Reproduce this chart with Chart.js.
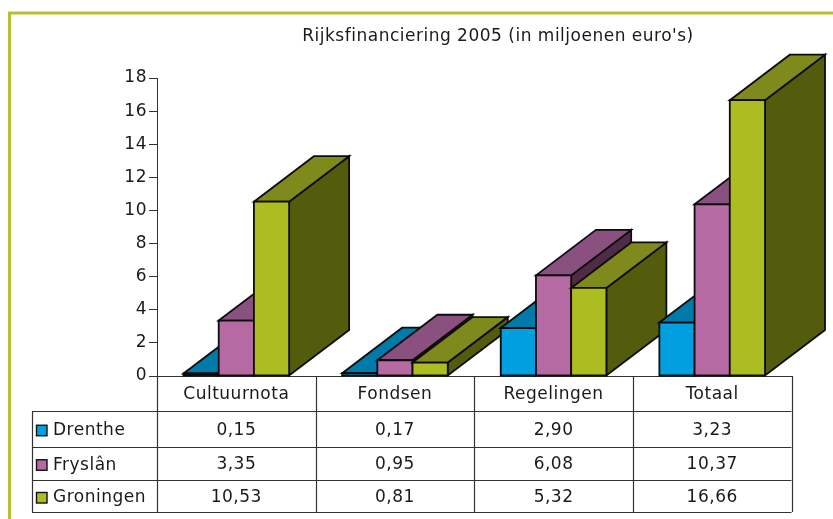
<!DOCTYPE html>
<html>
<head>
<meta charset="utf-8">
<title>Rijksfinanciering 2005</title>
<script src="https://cdn.jsdelivr.net/npm/chart.js@4"></script>
<style>
  html, body { margin: 0; padding: 0; background: #fff; }
  #wrap { position: relative; width: 833px; height: 519px; }
</style>
</head>
<body>
<div id="wrap"><canvas id="chart" width="833" height="519"></canvas></div>
<script>
  const categories = ['Cultuurnota', 'Fondsen', 'Regelingen', 'Totaal'];
  const seriesNames = ['Drenthe', 'Fryslân', 'Groningen'];
  const drenthe = [0.15, 0.17, 2.90, 3.23];
  const fryslan = [3.35, 0.95, 6.08, 10.37];
  const groningen = [10.53, 0.81, 5.32, 16.66];
  const yTicks = [0, 2, 4, 6, 8, 10, 12, 14, 16, 18];
  const chartTitle = "Rijksfinanciering 2005 (in miljoenen euro's)";

  const FONT = '"DejaVu Sans", sans-serif';
  const FONT_SIZE = 17;
  const INK = '#1a1a1a';
  const LINE = '#333333';
  const DEPTH_X = 60;
  const DEPTH_Y = 45.5;
  const ROW_LINES = [411, 446.5, 480, 512];
  const TABLE_LEFT = 32;

  const colors = [
    { front: '#009fdf', top: '#007aa8', side: '#004f6e' },
    { front: '#b56aa3', top: '#8a5180', side: '#4f2b45' },
    { front: '#adbc20', top: '#808a1c', side: '#535c0d' },
  ];
  const seriesValues = [drenthe, fryslan, groningen];

  const fillFace = (ctx, points, color) => {
    ctx.beginPath();
    points.forEach((p, i) => (i ? ctx.lineTo(p[0], p[1]) : ctx.moveTo(p[0], p[1])));
    ctx.closePath();
    ctx.fillStyle = color;
    ctx.fill();
    ctx.stroke();
  };

  // bars get their depth here, left to right, so nearer faces cover the ones behind
  const bars3d = {
    id: 'bars3d',
    afterDatasetsDraw(chart) {
      const ctx = chart.ctx;
      ctx.save();
      ctx.lineWidth = 1.8;
      ctx.strokeStyle = '#0c0c0c';
      ctx.lineJoin = 'miter';
      categories.forEach((cat, c) => {
        seriesValues.forEach((vals, s) => {
          const bar = chart.getDatasetMeta(s).data[c];
          const l = bar.x - bar.width / 2;
          const r = bar.x + bar.width / 2;
          const t = bar.y;
          const b = bar.base;
          fillFace(ctx, [[r, t], [r + DEPTH_X, t - DEPTH_Y], [r + DEPTH_X, b - DEPTH_Y], [r, b]], colors[s].side);
          fillFace(ctx, [[l, t], [l + DEPTH_X, t - DEPTH_Y], [r + DEPTH_X, t - DEPTH_Y], [r, t]], colors[s].top);
          fillFace(ctx, [[l, t], [r, t], [r, b], [l, b]], colors[s].front);
        });
      });
      ctx.restore();
    },
  };

  // green frame, title and the data table under the x axis
  const decorations = {
    id: 'decorations',
    beforeDraw(chart) {
      const ctx = chart.ctx;
      ctx.letterSpacing = '0.5px';
      ctx.save();
      ctx.strokeStyle = '#b5c22d';
      ctx.lineWidth = 3;
      ctx.strokeRect(9.5, 13, 840, 540);
      ctx.restore();
    },
    afterDraw(chart) {
      const ctx = chart.ctx;
      const x = chart.scales.x;
      const area = chart.chartArea;
      const step = x.getPixelForValue(1) - x.getPixelForValue(0);
      const edges = categories.map((cat, i) => x.getPixelForValue(i) - step / 2);
      edges.push(area.right);

      ctx.save();
      ctx.fillStyle = INK;
      ctx.font = FONT_SIZE + 'px ' + FONT;
      ctx.textAlign = 'center';
      ctx.textBaseline = 'middle';
      ctx.fillText(chartTitle, 498, 36.5);

      ctx.strokeStyle = LINE;
      ctx.lineWidth = 1.2;
      edges.forEach((ex) => {
        const px = Math.round(ex) + 0.5;
        ctx.beginPath();
        ctx.moveTo(px, area.bottom);
        ctx.lineTo(px, ROW_LINES[3]);
        ctx.stroke();
      });
      ctx.beginPath();
      ctx.moveTo(TABLE_LEFT + 0.5, ROW_LINES[0]);
      ctx.lineTo(TABLE_LEFT + 0.5, ROW_LINES[3]);
      ctx.stroke();
      ROW_LINES.forEach((ry) => {
        ctx.beginPath();
        ctx.moveTo(TABLE_LEFT, Math.round(ry) + 0.5);
        ctx.lineTo(area.right, Math.round(ry) + 0.5);
        ctx.stroke();
      });

      seriesNames.forEach((name, s) => {
        const midY = (ROW_LINES[s] + ROW_LINES[s + 1]) / 2;
        ctx.fillStyle = colors[s].front;
        ctx.strokeStyle = '#111111';
        ctx.lineWidth = 1.4;
        ctx.fillRect(36.5, midY + 2 - 5.5, 10.5, 10.5);
        ctx.strokeRect(36.5, midY + 2 - 5.5, 10.5, 10.5);
        ctx.strokeStyle = LINE;
        ctx.fillStyle = INK;
        ctx.textAlign = 'left';
        ctx.fillText(name, 53, midY + 2);
        ctx.textAlign = 'center';
        seriesValues[s].forEach((value, c) => {
          ctx.fillText(value.toFixed(2).replace('.', ','), x.getPixelForValue(c), midY + 1.5);
        });
      });
      ctx.restore();
    },
  };

  new Chart(document.getElementById('chart'), {
    type: 'bar',
    data: {
      labels: categories,
      datasets: seriesNames.map((name, s) => ({
        label: name,
        data: seriesValues[s],
        backgroundColor: colors[s].front,
        barPercentage: 1,
        categoryPercentage: 0.666,
      })),
    },
    options: {
      responsive: false,
      animation: false,
      layout: { padding: { top: 78, right: 41.5, left: 0, bottom: 0 } },
      plugins: {
        legend: { display: false },
        tooltip: { enabled: false },
      },
      scales: {
        x: {
          afterFit: (scale) => { scale.height = 143; },
          grid: { display: false },
          border: { display: true, color: LINE, width: 1 },
          ticks: { color: INK, font: { family: FONT, size: FONT_SIZE }, padding: 0, maxRotation: 0 },
        },
        y: {
          min: 0,
          max: 18,
          afterFit: (scale) => { scale.width = 157; },
          afterBuildTicks: (scale) => { scale.ticks = yTicks.map((value) => ({ value })); },
          grid: { drawOnChartArea: false, drawTicks: true, tickLength: 8, color: LINE },
          border: { display: true, color: LINE, width: 1 },
          ticks: { color: INK, font: { family: FONT, size: FONT_SIZE }, padding: 2 },
        },
      },
    },
    plugins: [decorations, bars3d],
  });
</script>
</body>
</html>
